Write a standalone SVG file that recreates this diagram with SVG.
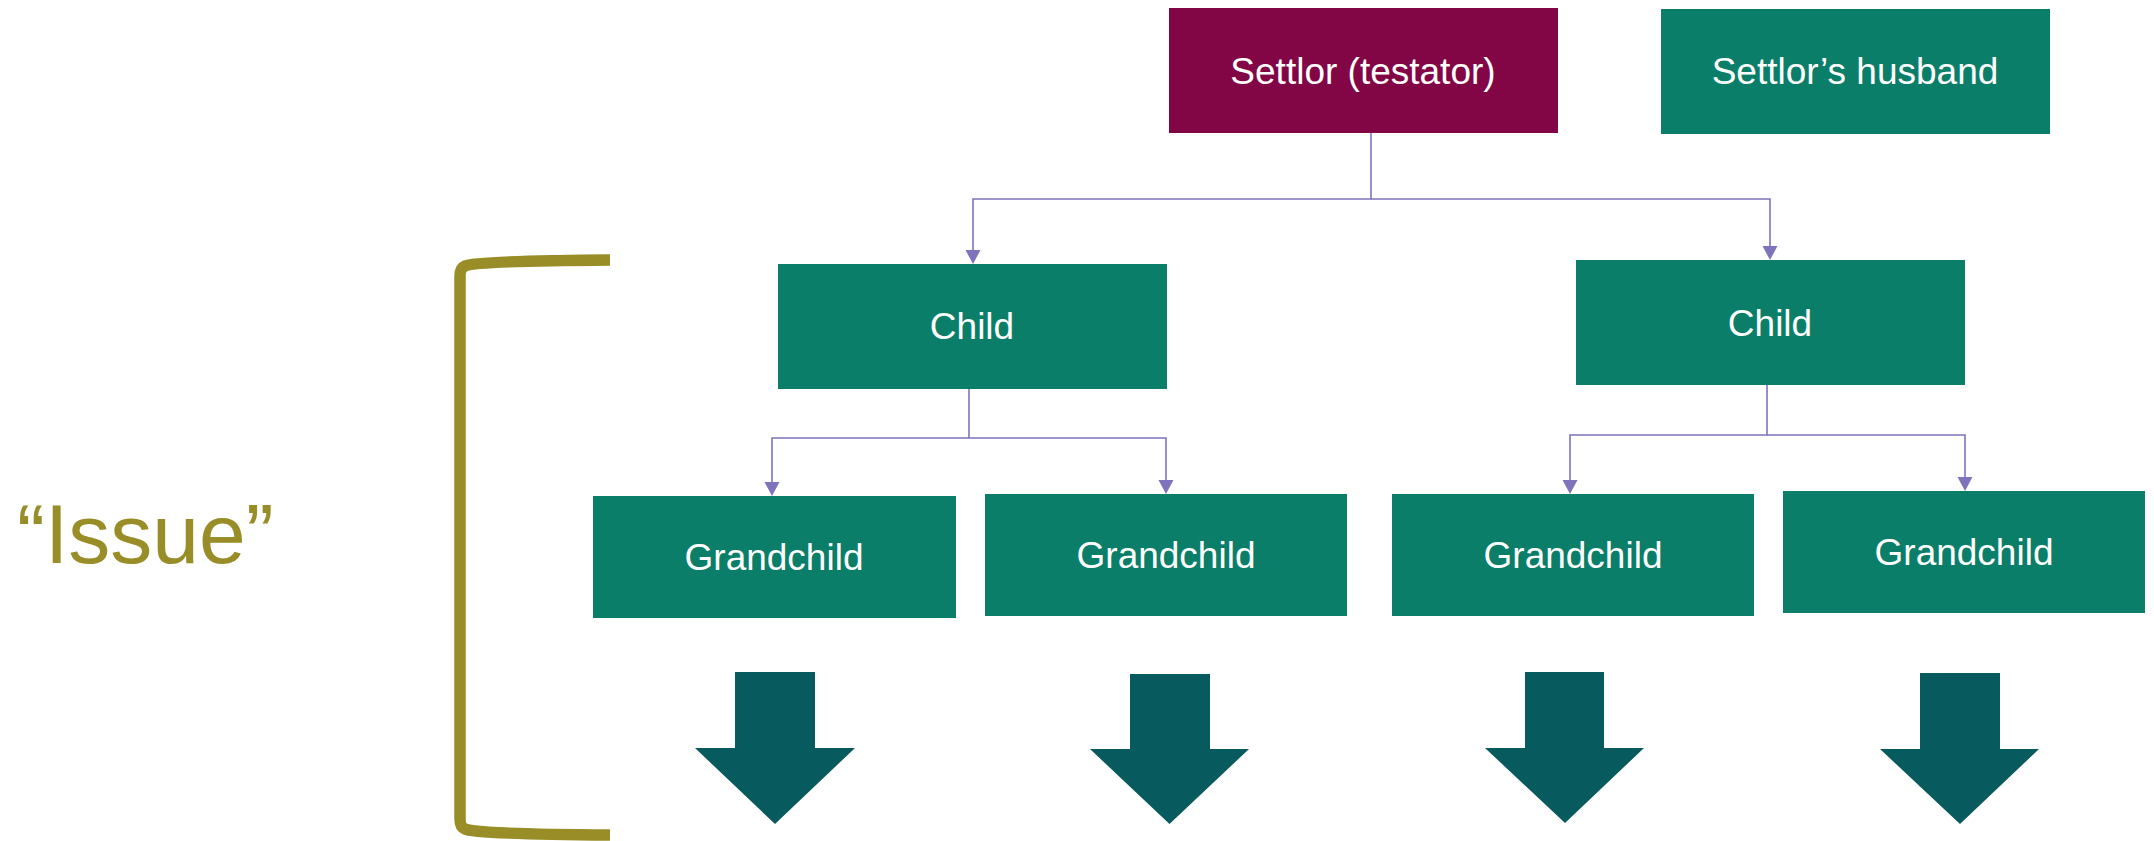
<svg xmlns="http://www.w3.org/2000/svg" width="2154" height="841" viewBox="0 0 2154 841">
<style>
.box{fill:#0A7E68}
.settlor{fill:#820645}
.lbl{font-family:"Liberation Sans",Arial,sans-serif;font-size:37px;fill:#FFFFFF;text-anchor:middle}
.conn{fill:none;stroke:#7D74BC;stroke-width:1.6}
.head{fill:#7D74BC}
.blk{fill:#075B5F}
.bracket{fill:none;stroke:#988D26;stroke-width:11.5}
.issue{font-family:"Liberation Sans",Arial,sans-serif;font-size:84px;fill:#988D26}
</style>
<rect width="2154" height="841" fill="#FFFFFF"/>
<g id="connectors">
<path class="conn" d="M1371 133 V199 H973 V250"/>
<path class="conn" d="M1371 199 H1770 V246"/>
<path class="conn" d="M969 389 V438 H772 V482"/>
<path class="conn" d="M969 438 H1166 V480"/>
<path class="conn" d="M1767 385 V435 H1570 V480"/>
<path class="conn" d="M1767 435 H1965 V477"/>
<polygon class="head" points="965.5,250 980.5,250 973,264"/>
<polygon class="head" points="1762.5,246 1777.5,246 1770,260"/>
<polygon class="head" points="764.5,482 779.5,482 772,496"/>
<polygon class="head" points="1158.5,480 1173.5,480 1166,494"/>
<polygon class="head" points="1562.5,480 1577.5,480 1570,494"/>
<polygon class="head" points="1957.5,477 1972.5,477 1965,491"/>
</g>
<g id="settlor">
<rect class="settlor" x="1169" y="8" width="389" height="125"/>
<text class="lbl" x="1363" y="84">Settlor (testator)</text>
</g>
<g id="husband">
<rect class="box" x="1661" y="9" width="389" height="125"/>
<text class="lbl" x="1855" y="84">Settlor’s husband</text>
</g>
<g id="child1">
<rect class="box" x="778" y="264" width="389" height="125"/>
<text class="lbl" x="972" y="339">Child</text>
</g>
<g id="child2">
<rect class="box" x="1576" y="260" width="389" height="125"/>
<text class="lbl" x="1770" y="336">Child</text>
</g>
<g id="grandchild1">
<rect class="box" x="593" y="496" width="363" height="122"/>
<text class="lbl" x="774" y="570">Grandchild</text>
</g>
<g id="grandchild2">
<rect class="box" x="985" y="494" width="362" height="122"/>
<text class="lbl" x="1166" y="568">Grandchild</text>
</g>
<g id="grandchild3">
<rect class="box" x="1392" y="494" width="362" height="122"/>
<text class="lbl" x="1573" y="568">Grandchild</text>
</g>
<g id="grandchild4">
<rect class="box" x="1783" y="491" width="362" height="122"/>
<text class="lbl" x="1964" y="565">Grandchild</text>
</g>
<g id="down-arrows">
<polygon class="blk" points="735,672 815,672 815,748 855,748 775,824 695,748 735,748"/>
<polygon class="blk" points="1130,674 1210,674 1210,749 1249,749 1169.5,824 1090,749 1130,749"/>
<polygon class="blk" points="1525,672 1604,672 1604,748 1644,748 1565,823 1485,748 1525,748"/>
<polygon class="blk" points="1920,673 2000,673 2000,749 2039,749 1960,824 1880,749 1920,749"/>
</g>
<g id="issue">
<path class="bracket" d="M610 260 Q475 261 465 266 Q460 268 460 276 L460 819 Q460 827 465 829 Q475 834 610 835"/>
<text class="issue" x="17" y="563">“Issue”</text>
</g>
</svg>
